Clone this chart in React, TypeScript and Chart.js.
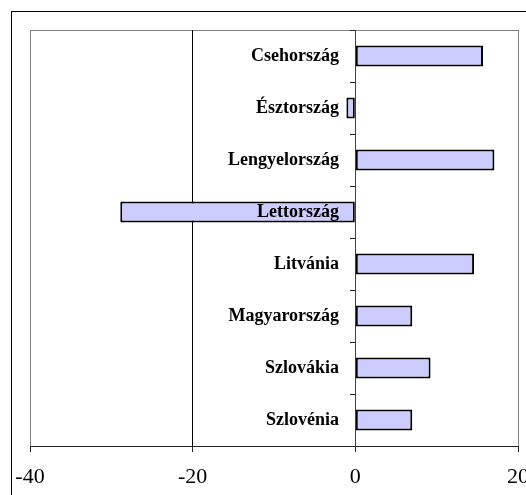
import { useEffect, useRef } from "react";
import { Chart, registerables } from "chart.js";

Chart.register(...registerables);

const categories = [
  "Csehország",
  "Észtország",
  "Lengyelország",
  "Lettország",
  "Litvánia",
  "Magyarország",
  "Szlovákia",
  "Szlovénia",
];
const values = [15.7, -1.1, 17.1, -28.9, 14.6, 7.0, 9.25, 7.0];
const xTicks = [-40, -20, 0, 20];

const SERIF = '"Liberation Serif", "Times New Roman", serif';

const framePlugin = {
  id: "frame",
  beforeDraw(chart: any) {
    const { ctx, chartArea: a } = chart;
    ctx.save();
    ctx.fillStyle = "#ffffff";
    ctx.fillRect(0, 0, chart.width, chart.height);
    ctx.strokeStyle = "#000000";
    ctx.lineWidth = 1;
    ctx.strokeRect(11.5, 11.5, chart.width + 40, chart.height + 40);
    ctx.strokeStyle = "#808080";
    ctx.strokeRect(a.left + 0.5, a.top + 0.5, a.right - a.left, a.bottom - a.top);
    ctx.restore();
  },
};

export default function App() {
  const ref = useRef<HTMLCanvasElement | null>(null);

  useEffect(() => {
    if (!ref.current) return;
    const chart = new Chart(ref.current, {
      type: "bar",
      data: {
        labels: categories,
        datasets: [
          {
            data: values,
            backgroundColor: "#CCCCFF",
            borderColor: "#000000",
            borderWidth: 2,
            borderSkipped: false,
            barPercentage: 0.4,
            categoryPercentage: 1,
            xAxisID: "x",
            yAxisID: "y",
          },
        ],
      },
      options: {
        indexAxis: "y",
        animation: false,
        responsive: false,
        layout: { padding: { top: 30, left: 30, right: 8, bottom: 0 } },
        plugins: {
          legend: { display: false },
          tooltip: { enabled: false },
          title: { display: false },
        },
        scales: {
          x: {
            type: "linear",
            position: "bottom",
            min: -40,
            max: 20,
            afterBuildTicks: (s: any) => {
              s.ticks = xTicks.map((v) => ({ value: v }));
            },
            afterFit: (s: any) => {
              s.height = 49;
              s.paddingLeft = 0;
              s.paddingRight = 0;
            },
            grid: {
              color: (c: any) =>
                c.tick && c.tick.value === -20
                  ? "#000000"
                  : c.tick && c.tick.value === 0
                  ? "#404040"
                  : "#808080",
              lineWidth: 1,
              tickLength: 6,
              tickColor: "#222222",
            },
            border: { color: "#222222", width: 1 },
            ticks: {
              font: { family: SERIF, size: 22 },
              color: "#000000",
              padding: 12,
              maxRotation: 0,
              autoSkip: false,
            },
          },
          y: {
            type: "category",
            position: { x: 0 } as any,
            grid: {
              drawOnChartArea: false,
              tickLength: 5,
              tickColor: "#222222",
              offset: true,
            },
            border: { color: "#404040", width: 1 },
            ticks: { display: false },
          },
          yLabels: {
            type: "category",
            labels: categories,
            offset: true,
            position: { x: -2 } as any,
            grid: { display: false, drawTicks: false },
            border: { display: false },
            ticks: {
              z: 1,
              font: { family: SERIF, size: 18, weight: "bold" },
              color: "#000000",
              autoSkip: false,
            },
          },
        },
      },
      plugins: [framePlugin],
    });
    return () => chart.destroy();
  }, []);

  return (
    <div style={{ position: "fixed", left: 0, top: 0, width: 526, height: 495 }}>
      <canvas ref={ref} width={526} height={495} />
    </div>
  );
}
